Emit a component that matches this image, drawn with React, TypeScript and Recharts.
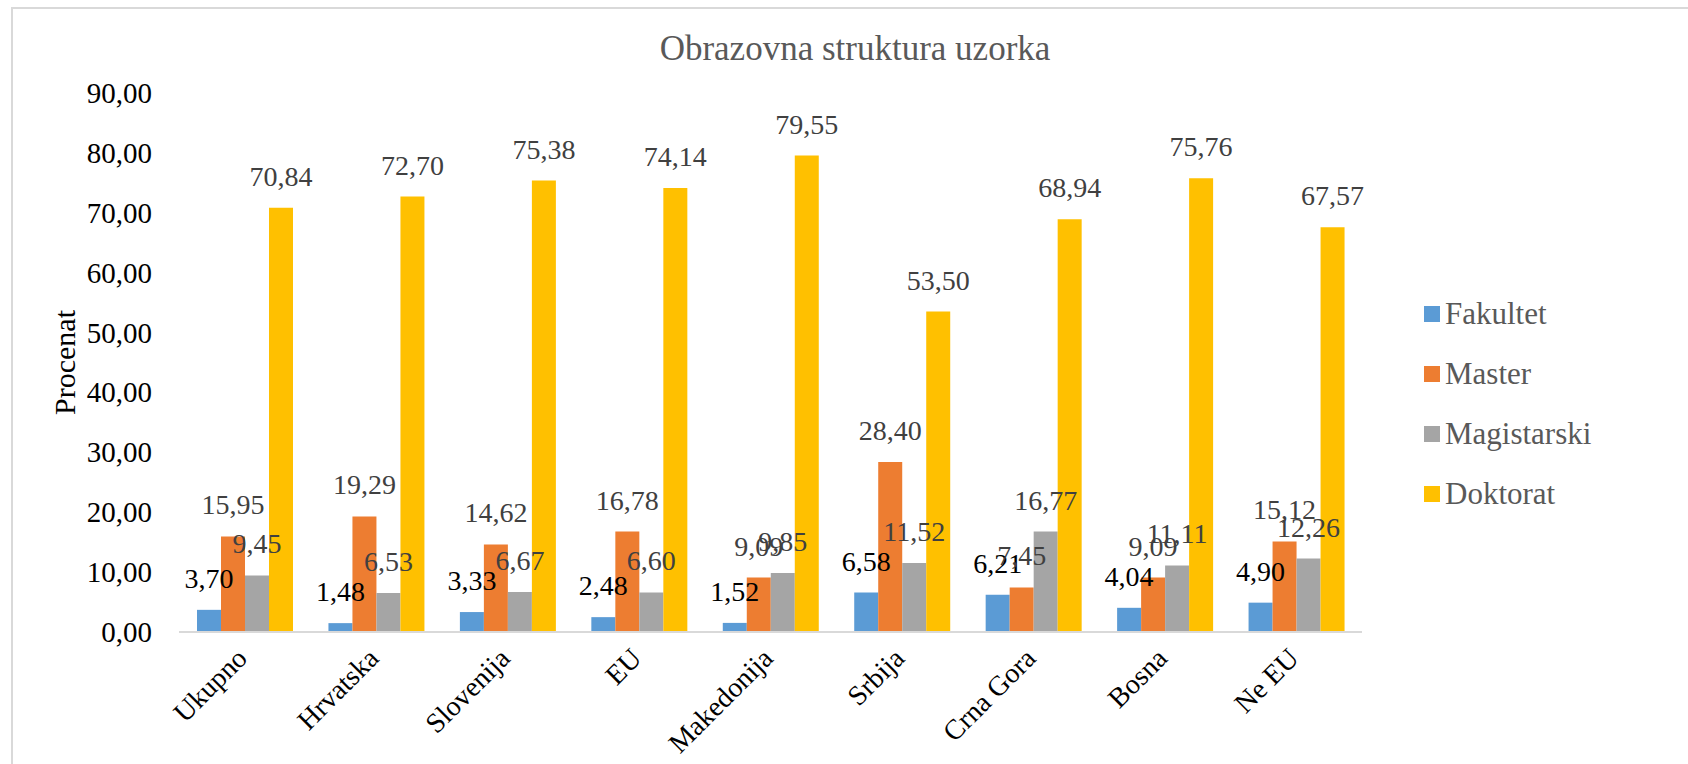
import React from 'react';
import { BarChart, Bar, XAxis, YAxis, Legend, LabelList } from 'recharts';

const categories = ['Ukupno', 'Hrvatska', 'Slovenija', 'EU', 'Makedonija', 'Srbija', 'Crna Gora', 'Bosna', 'Ne EU'];
const fakultet = [3.70, 1.48, 3.33, 2.48, 1.52, 6.58, 6.21, 4.04, 4.90];
const master = [15.95, 19.29, 14.62, 16.78, 9.09, 28.40, 7.45, 9.09, 15.12];
const magistarski = [9.45, 6.53, 6.67, 6.60, 9.85, 11.52, 16.77, 11.11, 12.26];
const doktorat = [70.84, 72.70, 75.38, 74.14, 79.55, 53.50, 68.94, 75.76, 67.57];
const seriesNames = ['Fakultet', 'Master', 'Magistarski', 'Doktorat'];
const seriesColors = ['#5B9BD5', '#ED7D31', '#A5A5A5', '#FFC000'];
const labelColors = ['#000000', '#404040', '#404040', '#404040'];
const yTicks = [0, 10, 20, 30, 40, 50, 60, 70, 80, 90];
const title = 'Obrazovna struktura uzorka';
const yTitle = 'Procenat';

const seriesValues = [fakultet, master, magistarski, doktorat];
const data = categories.map((c, i) => {
  const row: Record<string, any> = { name: c };
  seriesNames.forEach((s, j) => { row[s] = seriesValues[j][i]; });
  return row;
});

const FONT = '"Liberation Serif", "Times New Roman", Times, serif';
const fmt = (v: number) => Number(v).toFixed(2).replace('.', ',');

const XTick = (props: any) => {
  const { x, y, payload } = props;
  return (
    <g transform={`translate(${x + 4},${y})`}>
      <text x={0} y={0} transform="rotate(-45)" textAnchor="end" fontFamily={FONT} fontSize={28} fill="#000">
        {payload.value}
      </text>
    </g>
  );
};

const YTick = (props: any) => {
  const { x, y, payload } = props;
  return (
    <text x={x} y={y} dy={10} textAnchor="end" fontFamily={FONT} fontSize={29} fill="#000">
      {fmt(payload.value)}
    </text>
  );
};

const makeLabel = (color: string) => (props: any) => {
  const vb = props.viewBox || props;
  const x = vb.x ?? props.x;
  const y = vb.y ?? props.y;
  const w = vb.width ?? props.width;
  return (
    <text x={x + w / 2} y={y - 22} textAnchor="middle" fontFamily={FONT} fontSize={28} fill={color}>
      {fmt(props.value)}
    </text>
  );
};

const YLabel = (props: any) => {
  const vb = props.viewBox;
  const cx = vb.x + 36;
  const cy = vb.y + vb.height / 2;
  return (
    <text x={cx} y={cy} transform={`rotate(-90, ${cx}, ${cy})`} textAnchor="middle" fontFamily={FONT} fontSize={30} fill="#000">
      {yTitle}
    </text>
  );
};

const LegendContent = () => (
  <div>
    {seriesNames.map((n, i) => (
      <div key={n} style={{ display: 'flex', alignItems: 'center', height: 60 }}>
        <div style={{ width: 16, height: 16, background: seriesColors[i], marginRight: 5 }} />
        <span style={{ fontFamily: FONT, fontSize: 31, color: '#595959', lineHeight: '34px' }}>{n}</span>
      </div>
    ))}
  </div>
);

export default function App() {
  return (
    <div style={{ position: 'absolute', left: 0, top: 0, width: 1688, height: 764, overflow: 'hidden', background: '#fff' }}>
      <div style={{ position: 'absolute', left: 11, top: 7, width: 1720, height: 800, border: '2px solid #D9D9D9', boxSizing: 'border-box' }} />
      <div style={{ position: 'absolute', left: 0, top: 0 }}>
        <BarChart
          width={1688}
          height={764}
          data={data}
          margin={{ top: 93, right: 326, bottom: 12, left: 39 }}
          barGap={0}
          barSize={24}
        >
          <XAxis
            dataKey="name"
            height={120}
            interval={0}
            tickLine={false}
            tickSize={6}
            tickMargin={22}
            axisLine={{ stroke: '#D9D9D9', strokeWidth: 2 }}
            tick={<XTick />}
          />
          <YAxis
            width={140}
            domain={[0, 90]}
            ticks={yTicks}
            interval={0}
            axisLine={false}
            tickLine={false}
            tickSize={6}
            tickMargin={21}
            tick={<YTick />}
            label={<YLabel />}
          />
          <Legend
            layout="vertical"
            align="center"
            verticalAlign="middle"
            content={<LegendContent />}
            wrapperStyle={{ position: 'absolute', left: 1424, top: 284, width: 240, height: 240 }}
          />
          {seriesNames.map((s, i) => (
            <Bar key={s} dataKey={s} fill={seriesColors[i]} isAnimationActive={false}>
              <LabelList dataKey={s} content={makeLabel(labelColors[i])} />
            </Bar>
          ))}
        </BarChart>
      </div>
      <svg style={{ position: 'absolute', left: 0, top: 0, pointerEvents: 'none' }} width={1688} height={764}>
        <text x={855} y={60} textAnchor="middle" fontFamily={FONT} fontSize={35} fill="#595959">{title}</text>
      </svg>
    </div>
  );
}
